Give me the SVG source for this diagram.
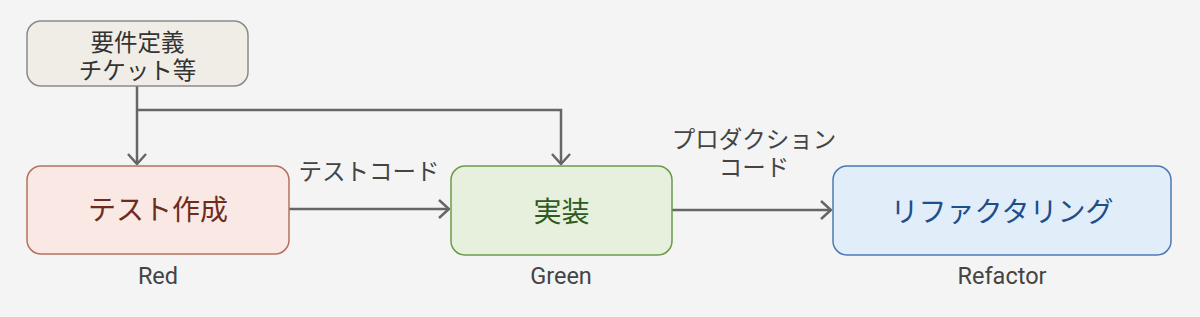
<svg xmlns="http://www.w3.org/2000/svg" width="1200" height="317" viewBox="0 0 1200 317">
<defs>
<marker id="arr" viewBox="0 0 12 20" refX="11" refY="10" markerWidth="12" markerHeight="20" markerUnits="userSpaceOnUse" orient="auto">
<polyline points="1,1 11,10 1,19" fill="none" stroke="#666" stroke-width="2.5"/>
</marker>
<style>
.t{font-family:"Noto Sans CJK JP","Noto Sans",Roboto,sans-serif;text-anchor:middle}
.lbl{font-family:Roboto,"Noto Sans CJK JP",sans-serif;font-size:23.5px;fill:#444;text-anchor:middle}
.el{font-family:"Noto Sans CJK JP",sans-serif;font-size:23.5px;fill:#444;text-anchor:middle}
.c{fill:none;stroke:#666;stroke-width:2.5}
</style>
</defs>
<rect width="1200" height="317" fill="#f4f4f4"/>
<g id="connectors">
<path class="c" d="M137,86 V164" marker-end="url(#arr)"/>
<path class="c" d="M137,110 H561 V164" marker-end="url(#arr)"/>
<path class="c" d="M289,209 H449" marker-end="url(#arr)"/>
<path class="c" d="M672,210 H831" marker-end="url(#arr)"/>
<text class="el" x="369" y="180">テストコード</text>
<text class="el" x="754" y="148">プロダクション</text>
<text class="el" x="754" y="176">コード</text>
</g>
<g id="req">
<rect x="27" y="21" width="221" height="65" rx="14" fill="#f0ede6" stroke="#8a8a8a" stroke-width="1.5"/>
<text class="t" x="137.5" y="51" font-size="23.5" fill="#333">要件定義</text>
<text class="t" x="137.5" y="79" font-size="23.5" fill="#333">チケット等</text>
</g>
<g id="red">
<rect x="27" y="166" width="262" height="88" rx="14" fill="#f9e8e3" stroke="#b5705e" stroke-width="1.5"/>
<text class="t" x="158" y="220" font-size="28" fill="#6e2c1c">テスト作成</text>
<text class="lbl" x="158" y="284">Red</text>
</g>
<g id="green">
<rect x="451" y="166" width="221" height="89" rx="14" fill="#e6f0dc" stroke="#6a9a4a" stroke-width="1.5"/>
<text class="t" x="561.5" y="222" font-size="28" fill="#2e5a1c">実装</text>
<text class="lbl" x="561" y="284">Green</text>
</g>
<g id="blue">
<rect x="833" y="166" width="338" height="89" rx="14" fill="#e1edf9" stroke="#4a7ab5" stroke-width="1.5"/>
<text class="t" x="1002" y="222" font-size="28" fill="#1f4e8c">リファクタリング</text>
<text class="lbl" x="1002" y="284">Refactor</text>
</g>
</svg>
